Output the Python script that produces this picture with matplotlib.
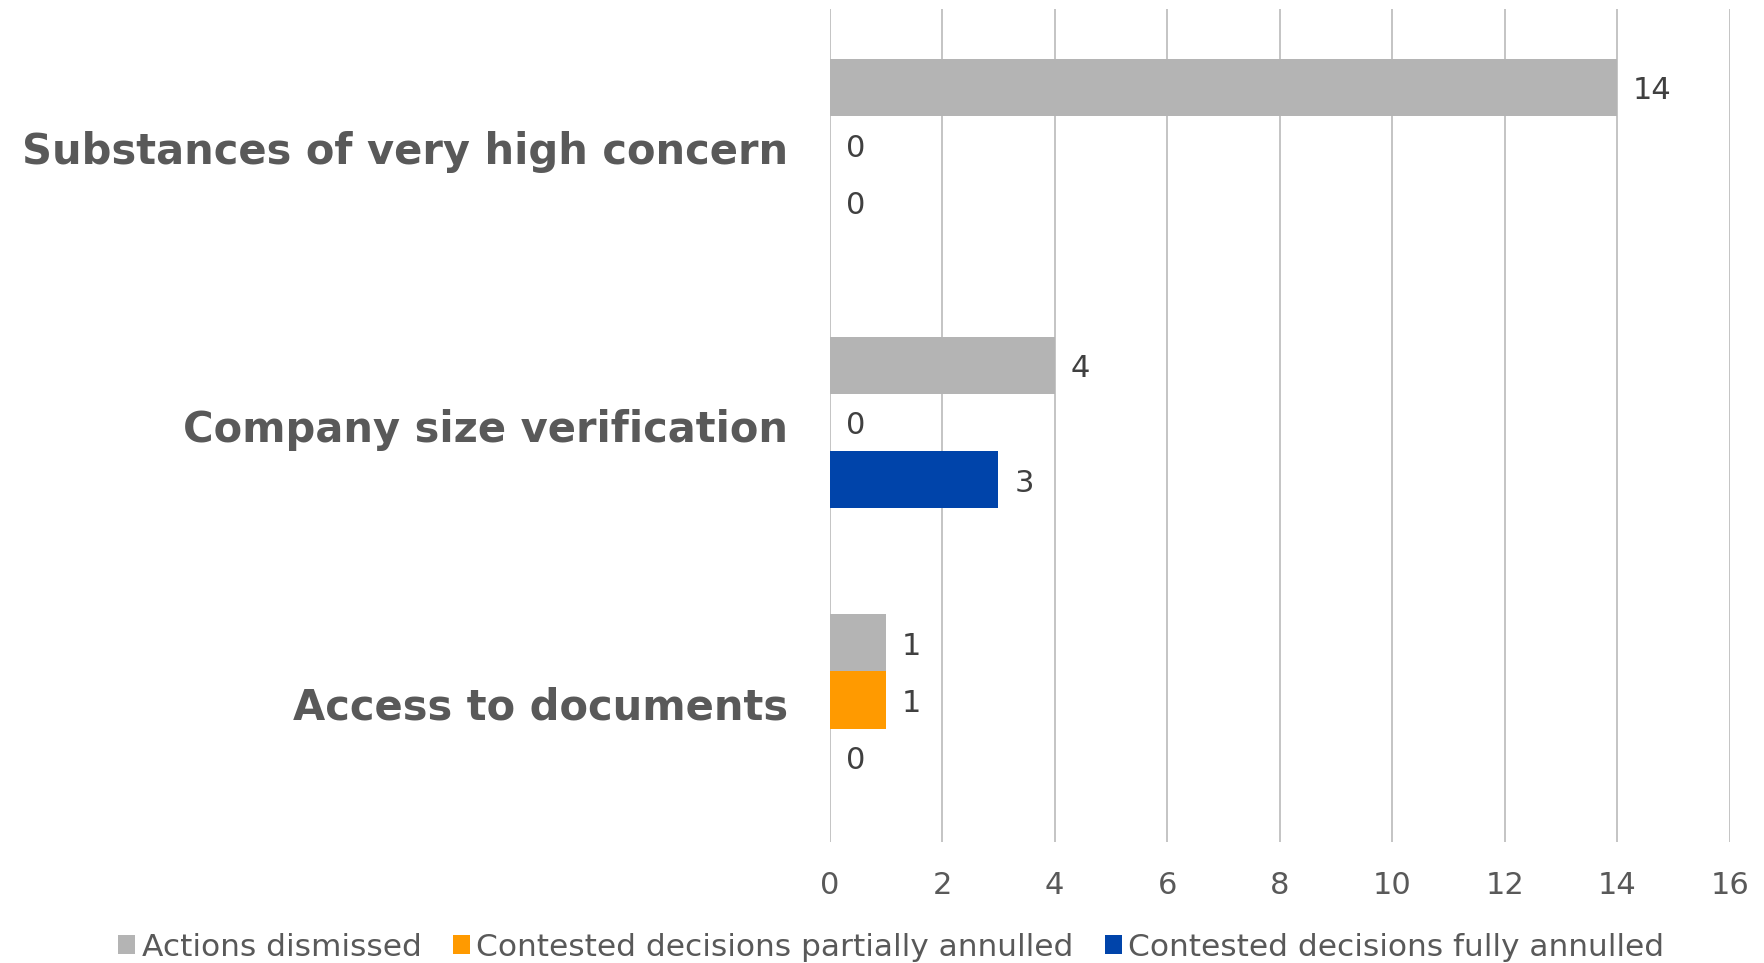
import matplotlib
matplotlib.use("Agg")
import matplotlib.pyplot as plt
import numpy as np

# Data
categories = ["Substances of very high concern", "Company size verification", "Access to documents"]
series_names = ["Actions dismissed", "Contested decisions partially annulled", "Contested decisions fully annulled"]
actions_dismissed = [14, 4, 1]
partially_annulled = [0, 0, 1]
fully_annulled = [0, 3, 0]
colors = ["#B4B4B4", "#FF9A00", "#0044AA"]
xticks = [0, 2, 4, 6, 8, 10, 12, 14, 16]

plt.rcParams["font.family"] = "DejaVu Sans"

fig = plt.figure(figsize=(17.65, 9.63), dpi=100)
ax = fig.add_axes([0.470, 0.126, 0.510, 0.865])

series = [actions_dismissed, partially_annulled, fully_annulled]
n = len(categories)
ypos = np.arange(n)[::-1]  # first category on top
bar_h = 0.206

for i, (name, vals, col) in enumerate(zip(series_names, series, colors)):
    y = ypos + (1 - i) * bar_h + 0.01
    ax.barh(y, vals, height=bar_h, color=col, label=name, zorder=3)
    for yy, v in zip(y, vals):
        ax.annotate(str(v), xy=(v, yy), xytext=(11.5, -2.5), textcoords="offset points",
                    ha="left", va="center", fontsize=22, color="#404040")

ax.set_xlim(0, 16)
ax.set_ylim(-0.5, 2.5)
ax.set_xticks(xticks)
ax.set_yticks(ypos)
ax.set_yticklabels(categories, fontsize=30, fontweight="bold", color="#595959")
ax.tick_params(axis="x", labelsize=22, labelcolor="#595959", length=0, pad=21)
ax.tick_params(axis="y", length=0, pad=30)
ax.grid(axis="x", color="#BFBFBF", linewidth=1.3, zorder=0)
for s in ax.spines.values():
    s.set_visible(False)

fig.legend(loc="lower center", bbox_to_anchor=(0.505, -0.028), ncol=3, frameon=False,
           fontsize=22.5, handlelength=0.55, handleheight=0.55, handletextpad=0.2,
           columnspacing=1.0, labelcolor="#595959")

fig.savefig("out.png", dpi=100)
